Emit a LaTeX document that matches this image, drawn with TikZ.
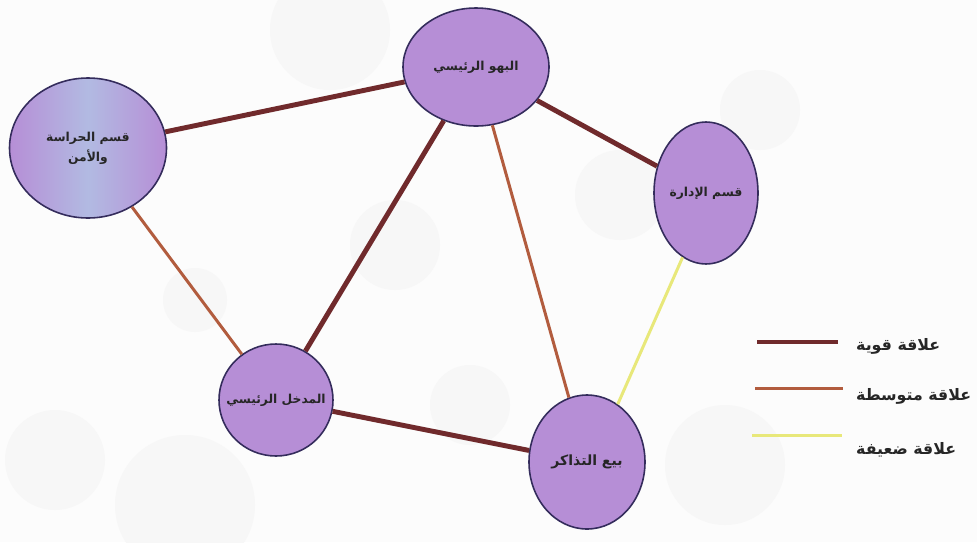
\documentclass[tikz,border=0pt]{standalone}
\usepackage{fontspec}
\newfontfamily\arabicfont[Script=Arabic]{DejaVu Sans}
\TeXXeTstate=1
\usepackage{tikz}
\usetikzlibrary{shapes.geometric}

\definecolor{roomfill}{RGB}{182,142,214}
\definecolor{roomstripe}{RGB}{178,186,226}
\definecolor{roomline}{RGB}{52,44,92}
\definecolor{strongrel}{RGB}{112,42,44}
\definecolor{midrel}{RGB}{178,92,62}
\definecolor{weakrel}{RGB}{232,232,122}

\tikzset{
  room/.style={ellipse,fill=roomfill,draw=roomline,line width=0.9pt,inner sep=0pt},
  roomtext/.style={font=\arabicfont\scriptsize\bfseries,text=black!85,align=center,inner sep=0pt},
  strong/.style={strongrel,line width=2.8pt},
  medium/.style={midrel,line width=1.7pt},
  weak/.style={weakrel,line width=1.7pt},
  legendtext/.style={anchor=west,font=\arabicfont\small\bfseries,text=black!85}
}

\begin{document}
\begin{tikzpicture}[x=0.02cm,y=-0.02cm]
            % page and faint background blobs
            \fill[black!1] (0,0) rectangle (977,542);
            \useasboundingbox (0,0) rectangle (977,542);
            \fill[black!3] (330,30) circle (60);
            \fill[black!3] (620,195) circle (45);
            \fill[black!3] (760,110) circle (40);
            \fill[black!3] (395,245) circle (45);
            \fill[black!3] (195,300) circle (32);
            \fill[black!3] (185,505) circle (70);
            \fill[black!3] (470,405) circle (40);
            \fill[black!3] (725,465) circle (60);
            \fill[black!3] (55,460) circle (50);

            % rooms
            \node[room,minimum width=157*0.02cm,minimum height=140*0.02cm,
                  left color=roomfill,right color=roomfill,middle color=roomstripe,
                  label={[roomtext]center:\beginR قسم الحراسة\endR\\[2pt] \beginR والأمن\endR}]
                  (guard) at (88,148) {};
            \node[room,minimum width=146*0.02cm,minimum height=118*0.02cm,
                  label={[roomtext]center:\beginR البهو الرئيسي\endR}] (lobby) at (476,67) {};
            \node[room,minimum width=104*0.02cm,minimum height=142*0.02cm,
                  label={[roomtext]center:\beginR قسم الإدارة\endR}] (admin) at (706,193) {};
            \node[room,minimum width=114*0.02cm,minimum height=112*0.02cm,
                  label={[roomtext]center:\beginR المدخل الرئيسي\endR}] (entrance) at (276,400) {};
            \node[room,minimum width=116*0.02cm,minimum height=134*0.02cm,
                  label={[roomtext,font=\arabicfont\footnotesize\bfseries]center:\beginR بيع التذاكر\endR}] (tickets) at (587,462) {};

            % relations
            \draw[strong] (guard) -- (lobby);
            \draw[strong] (lobby) -- (admin);
            \draw[strong] (lobby) -- (entrance);
            \draw[medium] (lobby) -- (tickets);
            \draw[medium] (guard) -- (entrance);
            \draw[strong] (entrance) -- (tickets);
            \draw[weak] (admin.250) -- (tickets.62);

            % legend
            \coordinate (k1a) at (757,342); \coordinate (k1b) at (838,342);
            \coordinate (k2a) at (755,388); \coordinate (k2b) at (843,388);
            \coordinate (k3a) at (752,435); \coordinate (k3b) at (842,435);
            \draw[strong] (k1a) -- (k1b);
            \draw[medium] (k2a) -- (k2b);
            \draw[weak] (k3a) -- (k3b);
            \node[legendtext] (strongkey) at (850,346) {\beginR علاقة قوية\endR};
            \node[legendtext] (midkey) at (850,396) {\beginR علاقة متوسطة\endR};
            \node[legendtext] (weakkey) at (850,450) {\beginR علاقة ضعيفة\endR};
        \end{tikzpicture}
\end{document}
